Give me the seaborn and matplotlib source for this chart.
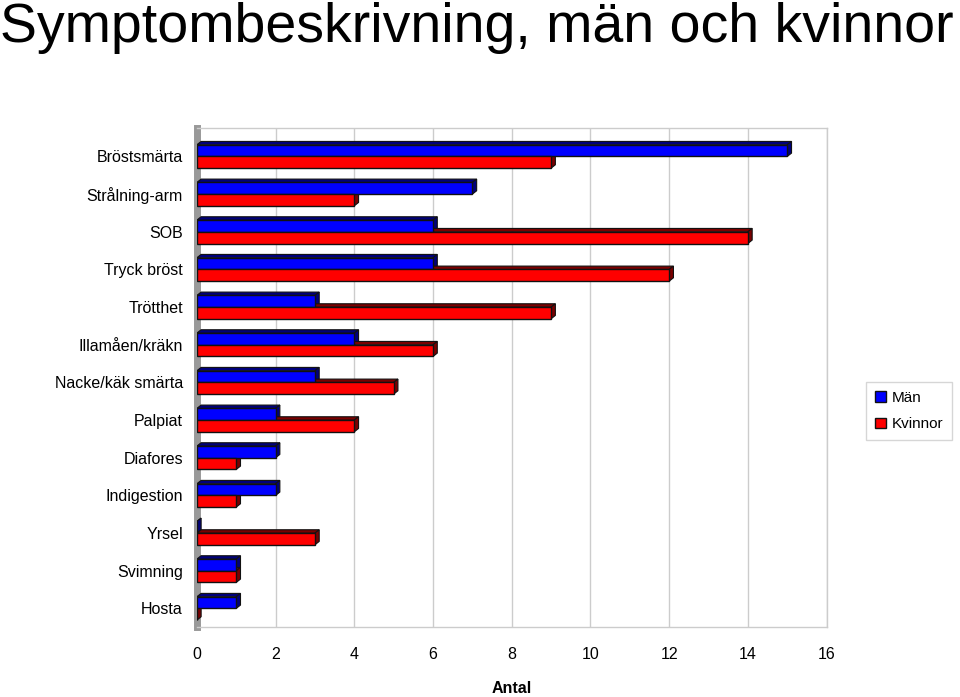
import numpy as np
import pandas as pd
import matplotlib
matplotlib.use("Agg")
import matplotlib.pyplot as plt
from matplotlib.patches import Polygon
import seaborn as sns

# ── DATA ──────────────────────────────────────────────────────────────────────
symptoms = ["Bröstsmärta", "Strålning-arm", "SOB", "Tryck bröst", "Trötthet",
            "Illamåen/kräkn", "Nacke/käk smärta", "Palpiat", "Diafores",
            "Indigestion", "Yrsel", "Svimning", "Hosta"]
man = [15, 7, 6, 6, 3, 4, 3, 2, 2, 2, 0, 1, 1]
kvinnor = [9, 4, 14, 12, 9, 6, 5, 4, 1, 1, 3, 1, 0]
series = ["Män", "Kvinnor"]
xticks = [0, 2, 4, 6, 8, 10, 12, 14, 16]

df = pd.DataFrame({
    "Symptom": symptoms * 2,
    "Antal": man + kvinnor,
    "Kön": [series[0]] * len(symptoms) + [series[1]] * len(symptoms),
})

sns.set_theme(style="white")
plt.rcParams["font.family"] = ["Liberation Sans", "DejaVu Sans"]
plt.rcParams["text.color"] = "black"
plt.rcParams["xtick.color"] = "black"
plt.rcParams["ytick.color"] = "black"
plt.rcParams["axes.labelcolor"] = "black"

fig = plt.figure(figsize=(9.6, 6.97), dpi=100)
ax = fig.add_axes([0.205, 0.100, 0.656, 0.716])

face = {"Män": "#0000FF", "Kvinnor": "#FF0000"}
dark = {"Män": "#00007A", "Kvinnor": "#7A0000"}

sns.barplot(data=df, x="Antal", y="Symptom", hue="Kön", orient="h",
            palette=face, width=0.62, edgecolor="#111111", linewidth=1.0,
            saturation=1, ax=ax, legend=True, zorder=3)

# fake 3D: top and right faces from each bar patch
dx, dy = 0.11, 0.09
for cont, name in zip(ax.containers, series):
    for p in cont.patches:
        x0, y0 = p.get_x(), p.get_y()
        w, h = p.get_width(), p.get_height()
        ytop = min(y0, y0 + h)
        ybot = max(y0, y0 + h)
        top = Polygon([(x0, ytop), (x0 + w, ytop), (x0 + w + dx, ytop - dy),
                       (x0 + dx, ytop - dy)], closed=True,
                      facecolor=dark[name], edgecolor="#111111", lw=0.8, zorder=2.9)
        side = Polygon([(x0 + w, ytop), (x0 + w + dx, ytop - dy),
                        (x0 + w + dx, ybot - dy), (x0 + w, ybot)], closed=True,
                       facecolor=dark[name], edgecolor="#111111", lw=0.8, zorder=2.9)
        ax.add_patch(top)
        ax.add_patch(side)

ax.set_xlim(0, 16)
ax.set_ylim(len(symptoms) - 0.5, -0.75)
ax.set_xticks(xticks)
ax.set_xticklabels([str(t) for t in xticks], fontsize=11.5)
ax.tick_params(axis="y", labelsize=11.5, pad=10, length=0)
ax.tick_params(axis="x", pad=14, length=0)
ax.xaxis.grid(True, color="#CCCCCC", lw=1.0, zorder=0)
ax.set_ylabel("")
ax.set_xlabel("Antal", fontsize=11.5, fontweight="bold", labelpad=14)

for s in ["top", "right", "bottom"]:
    ax.spines[s].set_color("#CCCCCC")
    ax.spines[s].set_linewidth(1.0)
ax.spines["left"].set_color("#999999")
ax.spines["left"].set_linewidth(5)

leg = ax.legend(loc="center left", bbox_to_anchor=(1.05, 0.433), fontsize=11,
                frameon=True, fancybox=False, edgecolor="#CCCCCC",
                handlelength=0.7, handleheight=0.7, handletextpad=0.4,
                borderpad=0.6, labelspacing=0.8)
for hnd in leg.legend_handles:
    hnd.set_edgecolor("#111111")

fig.text(0.0, 1 - 42 / 697, "Symptombeskrivning, män och kvinnor", fontsize=40,
         ha="left", va="baseline")

fig.savefig("out.png", dpi=100)
